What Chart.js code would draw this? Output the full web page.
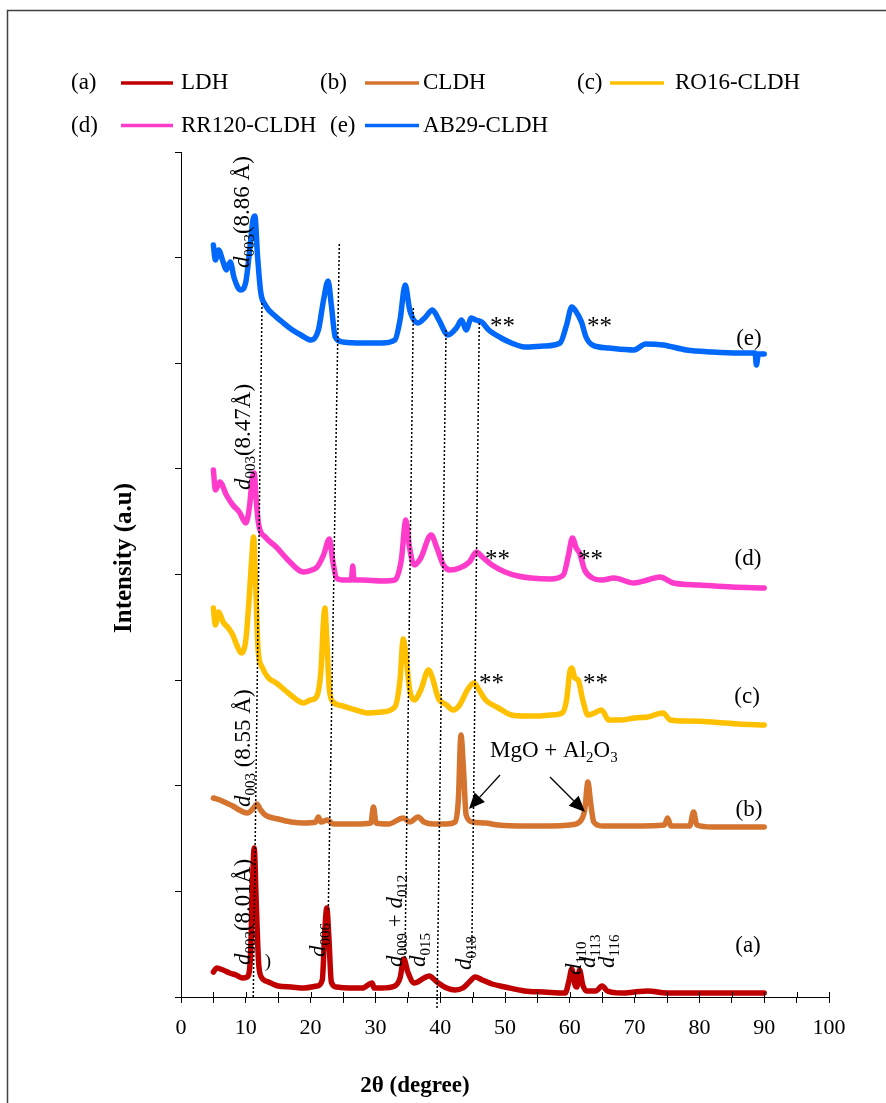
<!DOCTYPE html>
<html>
<head>
<meta charset="utf-8">
<title>XRD patterns</title>
<script src="https://cdn.jsdelivr.net/npm/chart.js@4.4.1/dist/chart.umd.min.js"></script>
<style>
  html, body { margin: 0; padding: 0; background: #fff; overflow: hidden; }
  canvas { display: block; }
</style>
</head>
<body>
<canvas id="xrd" width="886" height="1103"></canvas>
<script>
// 2theta (degree) and stacked intensity (a.u., offset per pattern)
const ldhX = [5,5.5,6.5,7.5,8.5,9.5,10.2,10.7,11,11.3,11.6,12,12.5,13.5,15,17,19,21,21.8,22.2,22.5,22.8,23.2,24,26,28,29.5,29.8,31,33,33.8,34.4,35,36,37.5,38.3,39.5,41,42.3,43.5,44.5,45.4,46.5,48,50,53,56,59.3,59.9,60.3,60.8,61.1,61.5,62,62.6,64,65,65.8,68,70,72,75,80,85,90];
const ldhY = [25,29,27,24,22,19,20,37,107,149,97,32,19,15,11,10,9,11,17,67,89,62,15,10,9,9,14,9,9,11,19,38,25,14,19,21,15,9,7,9,15,20,17,13,10,6,5,4,17,28,12,10,27,12,6,6,11,6,4,5,6,4,4,4,4];

const cldhX = [5,6,7,8,9,10.2,11.2,11.7,12.3,13,15,17,19,20.8,21.2,21.6,22.6,23.5,27,29.3,29.7,30.1,32,34.3,35.3,36.6,37.5,39,41,42.3,42.8,43.2,43.6,44,45,47,49,53,57,60,61.5,62.3,62.8,63.2,63.7,65,70,74.6,75.1,75.6,78.5,79.1,79.6,82,86,90];
const cldhY = [199,197,194,191,187,184,189,193,187,182,178,175,174,175,180,175,177,173,173,174,190,174,173,179,175,180,175,173,173,175,197,262,227,182,175,174,172,171,171,172,175,187,215,195,175,171,171,172,179,171,171,185,172,170,170,170];

const ro16X = [5,5.3,5.8,6.5,7.3,8,8.6,9.3,10,10.5,10.9,11.2,11.5,11.9,12.5,13.5,14.7,16,17.5,18.9,20,20.9,21.6,22,22.2,22.5,22.9,23.5,25,27,29,31,33,33.8,34.3,34.7,35.3,36,37,38.2,38.8,39.7,41,42,43,44.2,45.2,46,47,49,51,53,55,57,58.8,59.5,60,60.3,60.8,61.3,62,62.8,63.8,64.9,66,68,70,72,74.4,75.5,78,82,86,90];
const ro16Y = [389,372,385,375,369,362,352,344,357,397,437,460,417,347,330,319,314,307,299,294,297,300,327,377,389,357,307,295,291,287,284,285,290,317,358,342,307,297,307,327,319,299,292,287,292,307,314,307,297,289,282,281,281,282,284,297,325,329,319,317,297,282,284,287,277,277,279,280,284,277,276,275,273,272];

const rr120X = [5,5.3,6,7,8,9,10,10.6,11,11.3,11.6,12,13,14.7,16.5,18.9,20.2,21,22,22.9,23.4,24,25,26.3,26.5,26.7,28,31,33,34,34.7,35.2,36,37,38.6,39.5,40.5,41.5,43,44.5,45.6,46.5,48,50,52,54,57,59,59.8,60.4,61,61.5,62.3,63.5,65,66.8,69.9,72,73.9,76,80,85,90];
const rr120Y = [527,507,515,502,492,485,474,492,519,524,497,472,460,450,437,425,427,430,442,458,437,419,417,417,431,417,417,416,417,437,477,452,432,439,462,449,432,427,429,435,445,440,432,425,421,419,418,422,442,459,449,444,427,419,417,419,414,417,420,414,412,410,409];

const ab29X = [5,5.3,5.8,6.5,7,7.6,8.2,9.2,10,10.6,11.1,11.4,11.8,12.3,13,14.7,16,17.2,18.5,20.1,21.2,22,22.7,23.2,23.8,25,28,31,33,33.8,34.6,35.3,36.6,37.6,38.8,39.8,41.2,42.5,43.3,44,44.8,45.5,46.4,47.5,49.4,51,53,56,58.5,59.5,60.3,61,61.8,62.5,63.5,66,69.9,71.7,74.4,78,82,86,88.6,88.8,89.1,90];
const ab29Y = [752,737,747,735,727,735,719,707,715,747,777,781,742,705,692,680,673,667,662,657,667,697,716,692,660,655,654,654,657,677,712,687,674,679,687,677,662,669,677,667,679,677,675,667,659,654,650,651,654,672,690,685,675,660,652,649,647,653,652,647,645,644,644,632,643,643];

const seriesNames = ['LDH', 'CLDH', 'RO16-CLDH', 'RR120-CLDH', 'AB29-CLDH'];
const seriesTags = ['(a)', '(b)', '(c)', '(d)', '(e)'];
const seriesColors = ['#C00000', '#D5742F', '#FFC000', '#FF3BCB', '#0068FA'];

// dotted guide lines through the reflections (top end, bottom end)
const guideX = [[12.5, 11.15], [24.43, 22.73], [35.85, 34.57], [40.9, 39.5], [46.03, 44.86]];
const guideY = [[694, 0], [753, 87], [689, 37], [667, -13], [674, 37]];

const xTicks = [0, 10, 20, 30, 40, 50, 60, 70, 80, 90, 100];

const serif = '"Liberation Serif", "Times New Roman", serif';

const pts = (xs, ys) => xs.map((x, i) => ({ x: x, y: ys[i] }));

// rotated reflection labels: [x, y, pieces]  (i = italic, s = subscript)
const hklLabels = [
  [10.49, 729, [['d', 'i'], ['003', 's'], ['(8.86 Å)', '']]],
  [10.65, 507, [['d', 'i'], ['003', 's'], ['(8.47Å)', '']]],
  [10.65, 190, [['d', 'i'], ['003', 's'], [' (8.55 Å)', '']]],
  [10.65, 32, [['d', 'i'], ['003', 's'], ['(8.01Å)', '']]],
  [22.22, 40, [['d', 'i'], ['006', 's']]],
  [34.1, 30, [['d', 'i'], ['009', 's'], [' + ', ''], ['d', 'i'], ['012', 's']]],
  [37.65, 30, [['d', 'i'], ['015', 's']]],
  [44.75, 27, [['d', 'i'], ['018', 's']]],
  [61.73, 22, [['d', 'i'], ['110', 's']]],
  [63.89, 29, [['d', 'i'], ['113', 's']]],
  [66.82, 29, [['d', 'i'], ['116', 's']]]
];
const tagSpots = [[87.5, 51], [87.65, 187], [87.35, 300], [87.5, 438], [87.65, 658]];
const starSpots = [[47.69, 676], [62.65, 676], [46.91, 443], [61.27, 443], [45.99, 319], [62.04, 319]];
const arrows = [[49.23, 222, 44.44, 188], [56.94, 220, 62.35, 185]];

function drawPieces(ctx, pieces, x, y, size, rotate) {
  ctx.save();
  ctx.translate(x, y);
  if (rotate) ctx.rotate(-Math.PI / 2);
  ctx.textAlign = 'left';
  ctx.textBaseline = 'alphabetic';
  let cx = 0;
  pieces.forEach(([t, k]) => {
    const fs = k === 's' ? size * 0.65 : size;
    ctx.font = (k === 'i' ? 'italic ' : '') + fs + 'px ' + serif;
    ctx.fillText(t, cx, k === 's' ? size * 0.22 : 0);
    cx += ctx.measureText(t).width;
  });
  ctx.restore();
}

const xrdDecor = {
  id: 'xrdDecor',
  beforeDraw(chart) {
    const ctx = chart.ctx;
    ctx.save();
    ctx.fillStyle = '#fff';
    ctx.fillRect(0, 0, chart.width, chart.height);
    ctx.strokeStyle = '#404040';
    ctx.lineWidth = 1.5;
    ctx.beginPath();
    ctx.moveTo(7.5, chart.height);
    ctx.lineTo(7.5, 10.5);
    ctx.lineTo(chart.width, 10.5);
    ctx.stroke();
    ctx.restore();
  },
  afterDraw(chart) {
    const ctx = chart.ctx;
    const sx = chart.scales.x, sy = chart.scales.y;
    const px = v => sx.getPixelForValue(v);
    const py = v => sy.getPixelForValue(v);
    const area = chart.chartArea;
    ctx.save();
    ctx.fillStyle = '#000';
    ctx.strokeStyle = '#000';

    // x tick marks cross the axis
    ctx.lineWidth = 1;
    ctx.beginPath();
    for (let v = 0; v <= 100; v += 5) {
      const x = Math.round(px(v)) + 0.5;
      ctx.moveTo(x, area.bottom);
      ctx.lineTo(x, area.bottom - 5);
    }
    ctx.stroke();

    // legend
    const legendRows = [[71, 121, 173, 181, 83], [320, 365, 419, 423, 83], [577, 610, 664, 675, 83], [71, 121, 173, 181, 125.5], [330, 365, 419, 423, 125.5]];
    ctx.font = '23px ' + serif;
    ctx.textBaseline = 'middle';
    ctx.textAlign = 'left';
    legendRows.forEach(([tx, l0, l1, nx, ty], i) => {
      ctx.fillText(seriesTags[i], tx, ty);
      ctx.fillText(seriesNames[i], nx, ty);
      ctx.strokeStyle = seriesColors[i];
      ctx.lineWidth = 3.5;
      ctx.beginPath();
      ctx.moveTo(l0, ty);
      ctx.lineTo(l1, ty);
      ctx.stroke();
    });

    // axis titles
    ctx.font = 'bold 23px ' + serif;
    ctx.textAlign = 'center';
    ctx.fillText('2θ (degree)', 415, 1086);
    ctx.save();
    ctx.translate(125, 558);
    ctx.rotate(-Math.PI / 2);
    ctx.font = 'bold 25px ' + serif;
    ctx.fillText('Intensity (a.u)', 0, 0);
    ctx.restore();

    // pattern tags
    ctx.font = '23px ' + serif;
    tagSpots.forEach(([x, y], i) => ctx.fillText(seriesTags[i], px(x), py(y)));

    // reflection labels
    hklLabels.forEach(([x, y, pieces]) => drawPieces(ctx, pieces, px(x), py(y), 23, true));
    ctx.font = '19px ' + serif;
    ctx.textAlign = 'center';
    ctx.fillText(')', px(13.43), py(35));

    // ** markers
    ctx.font = '25px ' + serif;
    ctx.textAlign = 'left';
    ctx.textBaseline = 'alphabetic';
    starSpots.forEach(([x, y]) => ctx.fillText('**', px(x), py(y) + 13));

    // MgO + Al2O3 with arrows
    drawPieces(ctx, [['MgO + Al', ''], ['2', 's'], ['O', ''], ['3', 's']], px(47.69), py(240), 23, false);
    arrows.forEach(([x0, y0, x1, y1]) => {
      const a = px(x0), b = py(y0), c = px(x1), d = py(y1);
      const ang = Math.atan2(d - b, c - a);
      const head = 16, half = 7;
      const bx = c - head * Math.cos(ang), by = d - head * Math.sin(ang);
      ctx.strokeStyle = '#000';
      ctx.lineWidth = 1.3;
      ctx.beginPath();
      ctx.moveTo(a, b);
      ctx.lineTo(bx, by);
      ctx.stroke();
      ctx.beginPath();
      ctx.moveTo(c, d);
      ctx.lineTo(bx + half * Math.sin(ang), by - half * Math.cos(ang));
      ctx.lineTo(bx - half * Math.sin(ang), by + half * Math.cos(ang));
      ctx.closePath();
      ctx.fill();
    });
    ctx.restore();
  }
};

const seriesData = [[ldhX, ldhY], [cldhX, cldhY], [ro16X, ro16Y], [rr120X, rr120Y], [ab29X, ab29Y]];

const datasets = [];
guideX.forEach((gx, i) => {
  datasets.push({
    label: 'guide' + i,
    data: pts(gx, guideY[i]),
    borderColor: '#000',
    borderWidth: 1.5,
    borderDash: [2, 2],
    pointRadius: 0,
    fill: false,
    clip: false,
    order: 0
  });
});
seriesData.forEach(([xs, ys], i) => {
  datasets.push({
    label: seriesNames[i],
    data: pts(xs, ys),
    borderColor: seriesColors[i],
    borderWidth: 5.5,
    borderJoinStyle: 'round',
    borderCapStyle: 'round',
    cubicInterpolationMode: 'monotone',
    pointRadius: 0,
    fill: false,
    order: 1
  });
});

new Chart(document.getElementById('xrd'), {
  type: 'line',
  data: { datasets: datasets },
  options: {
    responsive: false,
    animation: false,
    devicePixelRatio: 1,
    layout: { padding: { left: 175, top: 152, right: 57, bottom: 0 } },
    plugins: {
      legend: { display: false },
      tooltip: { enabled: false },
      title: { display: false }
    },
    scales: {
      x: {
        type: 'linear',
        min: 0,
        max: 100,
        afterFit: s => { s.height = 106; },
        border: { display: true, color: '#000', width: 1 },
        grid: { drawOnChartArea: false, drawTicks: true, tickLength: 6, color: '#000' },
        ticks: {
          stepSize: 5,
          autoSkip: false,
          maxRotation: 0,
          minRotation: 0,
          padding: 12,
          color: '#000',
          font: { family: serif, size: 22 },
          callback: v => xTicks.includes(v) ? String(v) : ''
        }
      },
      y: {
        type: 'linear',
        min: 0,
        max: 845,
        afterFit: s => { s.width = 6; },
        border: { display: true, color: '#000', width: 1 },
        grid: { drawOnChartArea: false, drawTicks: true, tickLength: 6, color: '#000' },
        ticks: { stepSize: 105.625, callback: () => '' }
      }
    }
  },
  plugins: [xrdDecor]
});
</script>
</body>
</html>
